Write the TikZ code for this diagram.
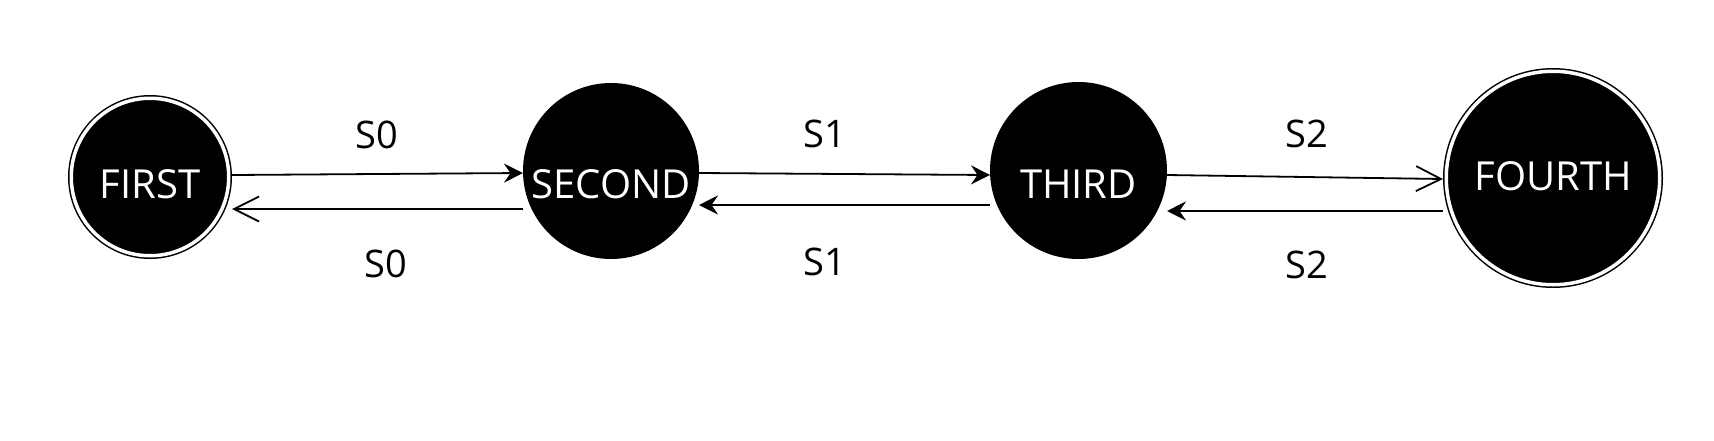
\documentclass[tikz,border=0pt]{standalone}
\usepackage{fontspec}
\setmainfont{Open Sans}
\usetikzlibrary{arrows.meta}
\begin{document}
\begin{tikzpicture}[x=1pt,y=-1pt,
  state/.style={circle, fill=black, text=white, inner sep=0pt, outer sep=0pt, font=\fontsize{40}{40}\selectfont},
  accept/.style={state, draw=black, double=white, double distance=3.5pt, line width=1.5pt, outer sep=3.25pt},
  edge/.style={line width=1.8pt},
  sarrow/.style={edge, -{Stealth[length=19pt,width=19pt,inset=6.5pt]}},
  oarrow/.style={edge, -{Straight Barb[length=25pt,width=25pt]}},
  lbl/.style={font=\fontsize{38}{38}\selectfont, inner sep=0pt}]
\fill[white] (0,0) rectangle (1714,440);
\node[accept, minimum size=157.5pt, text height=42pt, text depth=0pt] (first) at (150,177) {FIRST};
\node[state, minimum size=176pt, text height=54pt, text depth=0pt] (second) at (611,171) {SECOND\hspace{18pt}};
\node[state, minimum size=177pt, text height=55pt, text depth=0pt] (third) at (1078.5,170.5) {THIRD\hspace{5pt}};
\node[accept, minimum size=213.5pt, text height=24pt, text depth=0pt] (fourth) at (1553,178) {FOURTH};

\draw[sarrow] ([yshift=2pt]first.east) -- ([yshift=-2pt]second.west);
\draw[oarrow] ([yshift=-38pt]second.west) -- ([yshift=-32pt]first.east);
\draw[sarrow] ([yshift=-2pt]second.east) -- ([yshift=-4.5pt]third.west);
\draw[sarrow] ([yshift=-34.5pt]third.west) -- ([yshift=-34pt]second.east);
\draw[oarrow] ([yshift=-4.5pt]third.east) -- ([yshift=-1pt]fourth.west);
\draw[sarrow] ([yshift=-33pt]fourth.west) -- ([yshift=-40.5pt]third.east);

\node[lbl] (l01) at (377,135) {S0};
\node[lbl] (l02) at (386,264) {S0};
\node[lbl] (l11) at (825,134) {S1};
\node[lbl] (l12) at (825,262) {S1};
\node[lbl] (l21) at (1307,134) {S2};
\node[lbl] (l22) at (1307,265) {S2};
\end{tikzpicture}
\end{document}
